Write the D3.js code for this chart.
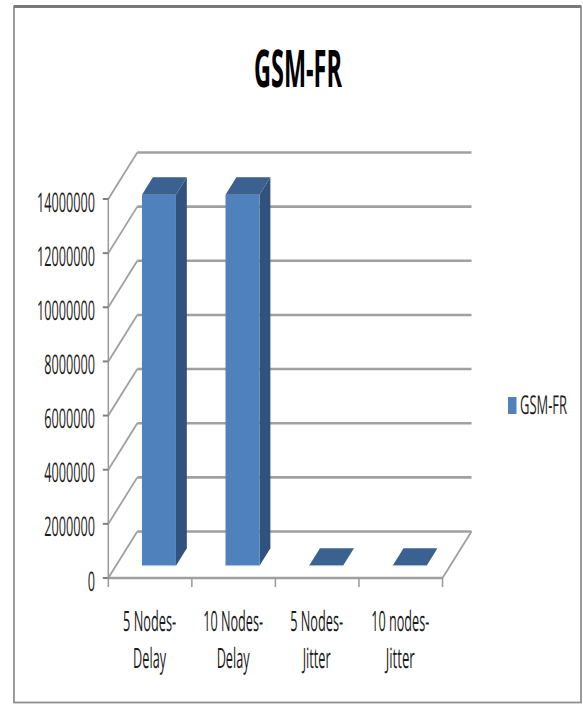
<!DOCTYPE html>
<html><head><meta charset="utf-8">
<script src="https://cdn.jsdelivr.net/npm/d3@7/dist/d3.min.js"></script>
<style>html,body{margin:0;padding:0;background:#fff}svg{display:block}text{font-family:"Open Sans",sans-serif;fill:#1c1c1c;text-rendering:geometricPrecision}</style>
</head><body><svg id="c" width="583" height="704"></svg>
<script>
const title = "GSM-FR";
const seriesName = "GSM-FR";
const categories = [["5 Nodes-","Delay"],["10 Nodes-","Delay"],["5 Nodes-","Jitter"],["10 nodes-","Jitter"]];
const values = [13700000,13700000,0,0];
const yTicks = [0,2000000,4000000,6000000,8000000,10000000,12000000,14000000];

const svg = d3.select("#c");
// frame
svg.append("rect").attr("x",14).attr("y",6.5).attr("width",567).attr("height",696)
  .attr("fill","#fff").attr("stroke","#8f8f8f").attr("stroke-width",1.8);
svg.append("line").attr("x1",14).attr("x2",581).attr("y1",6.5).attr("y2",6.5).attr("stroke","#7a7a7a").attr("stroke-width",3);

const y = d3.scaleLinear().domain([0,14000000]).range([578,199]);
const x = d3.scaleBand().domain(d3.range(categories.length)).range([108.3,442.5]);
const DX=29, DY=-46.5;
const px=(xv,v,d)=>[xv+DX*d, y(v)+DY*d];
const grid="#a0a0a0";
const line=(a,b,w,c)=>svg.append("line").attr("x1",a[0]).attr("y1",a[1]).attr("x2",b[0]).attr("y2",b[1]).attr("stroke",c||grid).attr("stroke-width",w);

const x0=x.range()[0], x1=x.range()[1];
yTicks.forEach(t=>{
  line(px(x0,t,1),px(x1,t,1),2.6);
  line(px(x0,t,0),px(x0,t,1),1.8);
});
line(px(x0,0,0),px(x1,0,0),2.6);
line(px(x1,0,0),px(x1,0,1),1.8);
line([x0,y(14000000)],[x0,y(0)],1.5,"#9a9a9a");
yTicks.forEach(t=>line([x0-5.5,y(t)],[x0,y(t)],2,"#808080"));
d3.range(categories.length+1).forEach(i=>{
  const xt=x0+i*x.step();
  line([xt,y(0)],[xt,y(0)+9],1.5,"#9a9a9a");
});
const bw=34, dNear=0.265, dFar=0.64;
const poly=(pts,f)=>svg.append("polygon").attr("points",pts.map(p=>p.join(",")).join(" ")).attr("fill",f);
values.forEach((v,i)=>{
  const l=x(i)+x.step()/2-bw/2+1.2, r=l+bw;
  const fbl=px(l,0,dNear),fbr=px(r,0,dNear),ftl=px(l,v,dNear),ftr=px(r,v,dNear);
  const btl=px(l,v,dFar),btr=px(r,v,dFar),bbr=px(r,0,dFar);
  if(v>0){
    poly([fbr,ftr,btr,bbr],"#30527c");
    poly([fbl,fbr,ftr,ftl],"#4f81bd");
  }
  poly([ftl,ftr,btr,btl],"#3a618f");
  line(fbl,fbr,1,"#b4cbe8");
});
// Condensed text: a large font squeezed horizontally to the reference's width.
const lab=(s,left,base,size,width,weight)=>{
  const t=svg.append("text").attr("font-size",size).text(s);
  if(weight) t.attr("font-weight",weight);
  const n=t.node().getComputedTextLength();
  t.attr("transform",`translate(${left},${base}) scale(${width/n},1)`);
  return t;
};
yTicks.forEach(t=>{
  const s=String(t), w=s.length*7.25;
  lab(s,95-w,y(t)+12.5,27,w);
});
const lens=[[53,33],[60,33],[53,28],[58,29]];
categories.forEach((c,i)=>{
  const cx=x(i)+x.step()/2-0.5;
  lab(c[0],cx-lens[i][0]/2,631,28,lens[i][0]);
  lab(c[1],cx-lens[i][1]/2,668,28,lens[i][1]);
});
lab(title,254,87,52,88,"bold").style("fill","#000");
svg.append("rect").attr("x",508).attr("y",397).attr("width",8.5).attr("height",17).attr("fill","#4f81bd");
lab(seriesName,520,414,26,47);
</script></body></html>
